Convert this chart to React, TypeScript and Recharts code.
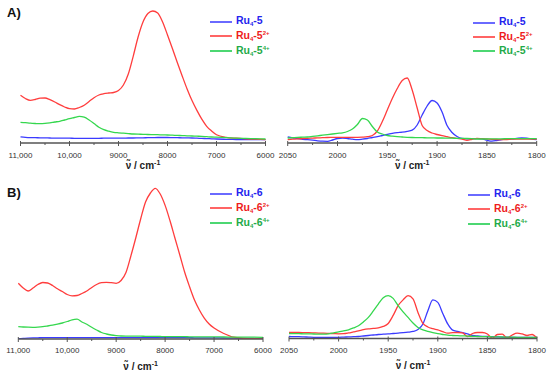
import { LineChart, Line, XAxis, YAxis, Legend } from "recharts";

// NIR region (cm-1), shared by both left panels
const nirWavenumbers = [
  11000, 10900, 10800, 10700, 10600, 10500, 10400, 10300, 10200, 10100,
  10000, 9900, 9800, 9700, 9600, 9500, 9400, 9300, 9200, 9100,
  9000, 8900, 8800, 8700, 8600, 8500, 8400, 8300, 8200, 8100,
  8000, 7900, 7800, 7700, 7600, 7500, 7400, 7300, 7200, 7100,
  7000, 6800, 6600, 6400, 6200, 6000,
];

// IR region (cm-1), shared by both right panels
const irWavenumbers = [
  2050, 2045, 2040, 2035, 2030, 2025, 2020, 2015, 2010, 2005,
  2000, 1995, 1990, 1985, 1980, 1975, 1970, 1965, 1960, 1955,
  1950, 1945, 1940, 1935, 1930, 1925, 1920, 1915, 1910, 1905,
  1900, 1895, 1890, 1885, 1880, 1875, 1870, 1865, 1860, 1855,
  1850, 1845, 1840, 1835, 1830, 1825, 1820, 1815, 1810, 1805, 1800,
];

const nirTicks = [11000, 10500, 10000, 9500, 9000, 8500, 8000, 7500, 7000, 6500, 6000];
const irTicks = [2050, 2025, 2000, 1975, 1950, 1925, 1900, 1875, 1850, 1825, 1800];

// A) Ru4-5, NIR
const ru45Nir = [
  6.2, 5.7, 5.4, 5.3, 5.2, 5.1, 5, 4.9, 4.9, 4.8,
  4.8, 4.7, 4.7, 4.7, 4.7, 4.7, 4.7, 4.8, 4.8, 4.8,
  4.9, 4.9, 5, 5, 5.1, 5.2, 5.3, 5.4, 5.5, 5.5,
  5.5, 5.4, 5.3, 5.2, 5.1, 5, 4.8, 4.6, 4.4, 4.2,
  4, 3.7, 3.5, 3.4, 3.4, 3.3,
];
const ru45DiNir = [
  47.7, 44.5, 42.7, 43.5, 44.8, 45, 43.3, 41, 38.3, 36,
  34.3, 34, 35.5, 37.8, 41.5, 45.3, 48, 49.3, 50, 50.5,
  52.5, 58, 69, 86.7, 106, 121, 129.5, 132, 130, 121,
  108, 94.5, 80.5, 67, 54, 42.4, 32.6, 23.8, 16.7, 12,
  8.3, 5.7, 4.8, 4.2, 3.8, 3.3,
];
const ru45TetraNir = [
  20.7, 20.3, 19.8, 19.5, 19.3, 19.6, 20.2, 21, 21.7, 23,
  24.3, 25.5, 26.7, 25.8, 23, 19.5, 15.8, 13.3, 11.8, 10.7,
  10.2, 9.8, 9.4, 9, 8.8, 8.7, 8.5, 8.4, 8.3, 8.1,
  8, 7.8, 7.6, 7.4, 7.2, 7, 6.8, 6.6, 6.3, 6,
  5.8, 5.3, 4.9, 4.6, 4.3, 4,
];

// A) Ru4-5, IR
const ru45Ir = [
  6, 5.2, 4.3, 3.7, 3.3, 2.8, 2.2, 1.8, 1.7, 3,
  4.5, 5, 4.5, 3.8, 3.3, 3.8, 4.5, 5.5, 6.3, 7.5,
  8.7, 9.6, 10.3, 10.8, 11.6, 12.8, 18, 28, 37, 42.5,
  40, 31, 17.5, 10.5, 6.5, 4.6, 4.2, 4.3, 4.4, 4.2,
  2.8, 1.8, 2.5, 3.5, 3.9, 4.2, 4.6, 5, 4.8, 4, 3.3,
];
const ru45DiIr = [
  3.3, 3.8, 4.2, 4.5, 4.7, 4.9, 5.1, 5.3, 5.5, 5.6,
  5.7, 5.7, 5.6, 5.6, 5.7, 5.9, 6.3, 7.5, 12, 21.5,
  33, 44.5, 54.5, 62.5, 65, 53, 35, 17.5, 12.5, 10,
  8.5, 7.3, 6.3, 5.3, 4.6, 4, 2.7, 3.6, 4.7, 4.3,
  4, 3.7, 3.5, 3.3, 3.5, 3.8, 4, 4, 4, 4, 4,
];
const ru45TetraIr = [
  5, 5.3, 5.6, 5.8, 6, 6.6, 7.2, 7.8, 8.4, 9,
  9.6, 10.2, 11.5, 14, 18.5, 24.5, 23, 16.5, 11, 9,
  7.5, 6.8, 6.3, 6, 5.7, 5.5, 5.4, 5.3, 5.2, 5.1,
  5, 5, 4.9, 4.8, 4.7, 4.6, 4.5, 4.3, 4, 4,
  4, 4.1, 4.2, 4.2, 4.3, 4.3, 4.3, 4.3, 4.3, 4.3, 4.3,
];

// B) Ru4-6, NIR
const ru46Nir = [
  0.3, 0.6, 0.9, 1.1, 1.2, 1.3, 1.3, 1.3, 1.3, 1.3,
  1.3, 1.3, 1.3, 1.3, 1.3, 1.3, 1.3, 1.3, 1.3, 1.3,
  1.3, 1.3, 1.3, 1.3, 1.3, 1.3, 1.3, 1.3, 1.3, 1.3,
  1.3, 1.3, 1.3, 1.3, 1.3, 1.3, 1.2, 1.2, 1.2, 1.2,
  1.1, 1, 0.8, 0.6, 0.5, 0.4,
];
const ru46DiNir = [
  55.7, 51, 48, 51, 54.5, 56.5, 56, 53.5, 50.2, 47.5,
  44.5, 43.2, 43.5, 45.5, 48, 51.5, 54.5, 56.3, 56.7, 56.3,
  55.7, 58.5, 66.5, 83, 101, 120, 137, 146, 150.7, 145,
  133.6, 118.2, 101, 84, 66.7, 52.2, 39, 29, 20.9, 15,
  10.9, 5.5, 1.8, 0.7, 0.3, 0.2,
];
const ru46TetraNir = [
  12.3, 12, 11.8, 11.7, 11.9, 12.3, 13, 13.8, 14.8, 16,
  17.5, 19.2, 19.8, 17, 14.8, 11.7, 9, 6.5, 5, 4,
  3.4, 3, 2.9, 2.9, 2.8, 2.8, 2.7, 2.7, 2.6, 2.5,
  2.4, 2.4, 2.3, 2.3, 2.3, 2.2, 2.2, 2.2, 2.1, 2.1,
  2.1, 2, 1.9, 1.8, 1.8, 1.7,
];

// B) Ru4-6, IR
const ru46Ir = [
  2, 1.9, 1.8, 1.6, 1.4, 1.2, 1.1, 1, 1, 1.1,
  1.2, 1.4, 1.6, 1.8, 2, 2.5, 3, 3.5, 4, 4.3,
  4.6, 5, 5.4, 5.8, 6.3, 7, 9, 14.5, 27.7, 38.5,
  36, 25, 14.5, 8.3, 7, 5.8, 4.5, 3, 2.5, 2.2,
  2, 1.8, 1.6, 1.4, 1.3, 1.2, 1.1, 1, 1, 1, 1,
];
const ru46DiIr = [
  6, 6, 6, 5.9, 5.8, 5.6, 5.4, 5.3, 5.1, 4.9,
  4.7, 4.8, 5.5, 6.5, 7.5, 8.8, 9.6, 10, 10.5, 12,
  15, 23, 32.7, 38.5, 42.7, 39.5, 26, 15, 11.5, 9.8,
  8.5, 6.8, 5.3, 5.8, 6, 5.5, 2, 5, 6, 6,
  4.5, 0.3, 4, 4.3, 0.5, 3.5, 5.3, 4.5, 3, 4, 0.3,
];
const ru46TetraIr = [
  5, 4.9, 4.8, 4.7, 4.6, 4.5, 4.4, 4.3, 4.6, 5.5,
  6.7, 7.5, 8.7, 10.5, 12.7, 16.5, 21, 27.5, 34.3, 40.5,
  42.7, 40, 32.7, 26.5, 21, 15.5, 11, 8.5, 7, 5.8,
  4.8, 4, 3.3, 3, 2.8, 2.6, 2.4, 2.1, 2, 1.9,
  1.8, 1.7, 1.6, 1.5, 1.4, 1.3, 1.2, 1.1, 1.1, 1, 1,
];

const lineColors = { neutral: "#3b3bff", di: "#ff3d3d", tetra: "#35d74e" };
const legendLineColors: any = { neutral: "#6a6aff", di: "#ff6464", tetra: "#4cd772" };
const textColors: any = { neutral: "#2424ee", di: "#ee1c1c", tetra: "#1faa48" };
const charges: any = { neutral: "", di: "2+", tetra: "4+" };

const buildRows = (xs: number[], a: number[], b: number[], c: number[]) =>
  xs.map((x, i) => ({ x, neutral: a[i], di: b[i], tetra: c[i] }));

const fmtWavenumber = (v: number) =>
  v >= 10000 ? `${Math.floor(v / 1000)},${String(v % 1000).padStart(3, "0")}` : String(v);

const WavenumberTick = ({ x, y, payload, major, labelGap }: any) => {
  const v = payload.value;
  const isMajor = v % major === 0;
  return (
    <g>
      <line x1={x} x2={x} y1={isMajor ? y - 2 : y} y2={y + (isMajor ? 3 : 2)} stroke="#555" strokeWidth={1} />
      {isMajor && (
        <text x={x} y={y + labelGap} textAnchor="middle" fontSize={8} fill="#333">
          {fmtWavenumber(v)}
        </text>
      )}
    </g>
  );
};

const AxisTitle = ({ viewBox, gap }: any) => {
  if (!viewBox) return null;
  const cx = viewBox.x + viewBox.width / 2;
  return (
    <text x={cx} y={viewBox.y + gap + 3.5} textAnchor="middle" fontSize={10} fontWeight="bold" fill="#222">
      {"ν\u0303 / cm"}
      <tspan dy={-4} fontSize={7}>-1</tspan>
    </text>
  );
};

const SeriesLegend = ({ payload, compound }: any) => (
  <div>
    {(payload || []).map((entry: any) => (
      <div key={entry.dataKey} style={{ display: "flex", alignItems: "center", height: 14.3 }}>
        <div style={{ width: 22, borderTop: `2px solid ${legendLineColors[entry.dataKey]}` }} />
        <span
          style={{
            marginLeft: 4,
            fontSize: 10.5,
            fontWeight: "bold",
            color: textColors[entry.dataKey],
            whiteSpace: "nowrap",
            lineHeight: "12px",
          }}
        >
          Ru<sub style={{ fontSize: 6, verticalAlign: "-2px" }}>4</sub>-{compound}
          {charges[entry.dataKey] && (
            <sup style={{ fontSize: 6, verticalAlign: "4px" }}>{charges[entry.dataKey]}</sup>
          )}
        </span>
      </div>
    ))}
  </div>
);

const Panel = ({ p }: any) => (
  <div style={{ position: "absolute", left: p.left, top: p.top }}>
    <LineChart width={275} height={p.height} data={p.data} margin={p.margin}>
      <XAxis
        type="number"
        dataKey="x"
        domain={p.domain}
        reversed
        ticks={p.ticks}
        interval={0}
        height={p.axisHeight}
        tickSize={0}
        tickMargin={0}
        tickLine={false}
        axisLine={{ stroke: "#555", strokeWidth: 1.6 }}
        tick={<WavenumberTick major={p.major} labelGap={p.labelGap} />}
        label={<AxisTitle gap={p.titleGap} />}
      />
      <YAxis hide domain={[0, p.yMax]} allowDataOverflow />
      <Legend
        layout="vertical"
        align="center"
        verticalAlign="middle"
        wrapperStyle={{ top: p.legendTop, left: p.legendLeft, width: 80 }}
        content={<SeriesLegend compound={p.compound} />}
      />
      <Line type="monotone" dataKey="neutral" name={`Ru4-${p.compound}`} stroke={lineColors.neutral} strokeWidth={1.3} dot={false} isAnimationActive={false} />
      <Line type="monotone" dataKey="di" name={`Ru4-${p.compound}2+`} stroke={lineColors.di} strokeWidth={1.3} dot={false} isAnimationActive={false} />
      <Line type="monotone" dataKey="tetra" name={`Ru4-${p.compound}4+`} stroke={lineColors.tetra} strokeWidth={1.3} dot={false} isAnimationActive={false} />
    </LineChart>
  </div>
);

const panels = [
  {
    left: 0, top: 0, height: 185, compound: "5",
    data: buildRows(nirWavenumbers, ru45Nir, ru45DiNir, ru45TetraNir),
    margin: { top: 8, right: 9.5, bottom: 0, left: 20.5 },
    domain: [6000, 11000], ticks: nirTicks, major: 1000, yMax: 135,
    axisHeight: 42, labelGap: 15, titleGap: 22.7, legendTop: 15, legendLeft: 210,
  },
  {
    left: 275, top: 0, height: 185, compound: "5",
    data: buildRows(irWavenumbers, ru45Ir, ru45DiIr, ru45TetraIr),
    margin: { top: 8, right: 13.3, bottom: 0, left: 12.7 },
    domain: [1800, 2050], ticks: irTicks, major: 50, yMax: 135,
    axisHeight: 42, labelGap: 15, titleGap: 22.7, legendTop: 15.5, legendLeft: 198,
  },
  {
    left: 0, top: 185, height: 191, compound: "6",
    data: buildRows(nirWavenumbers, ru46Nir, ru46DiNir, ru46TetraNir),
    margin: { top: 1, right: 12, bottom: 0, left: 18.3 },
    domain: [6000, 11000], ticks: nirTicks, major: 1000, yMax: 153,
    axisHeight: 37, labelGap: 14, titleGap: 27, legendTop: 2, legendLeft: 210,
  },
  {
    left: 275, top: 185, height: 191, compound: "6",
    data: buildRows(irWavenumbers, ru46Ir, ru46DiIr, ru46TetraIr),
    margin: { top: 1, right: 13, bottom: 0, left: 14 },
    domain: [1800, 2050], ticks: irTicks, major: 50, yMax: 152,
    axisHeight: 37.5, labelGap: 14, titleGap: 27, legendTop: 3, legendLeft: 193,
  },
];

export default function App() {
  return (
    <div
      style={{
        position: "absolute",
        left: 0,
        top: 0,
        width: 550,
        height: 376,
        background: "#fff",
        fontFamily: "'Liberation Sans', Arial, sans-serif",
        overflow: "hidden",
      }}
    >
      {panels.map((p, i) => (
        <Panel key={i} p={p} />
      ))}
      <div style={{ position: "absolute", left: 7, top: 5, fontSize: 13, fontWeight: "bold", color: "#111" }}>A)</div>
      <div style={{ position: "absolute", left: 7, top: 185, fontSize: 13, fontWeight: "bold", color: "#111" }}>B)</div>
    </div>
  );
}
